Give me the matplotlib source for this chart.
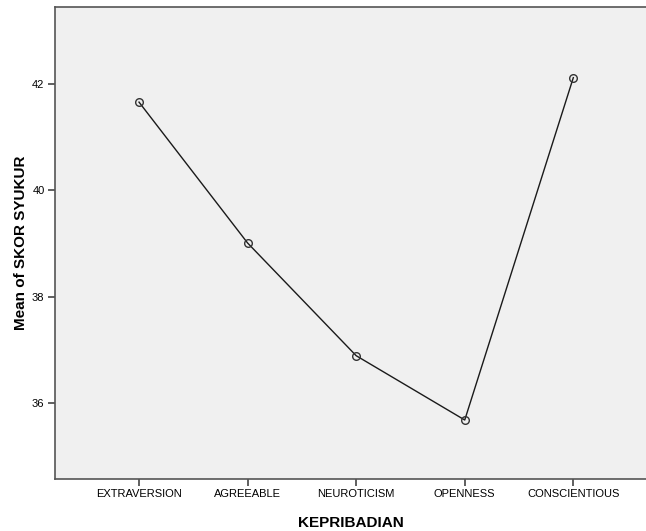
import matplotlib
matplotlib.use("Agg")
import matplotlib.pyplot as plt

# data
categories = ["EXTRAVERSION", "AGREEABLE", "NEUROTICISM", "OPENNESS", "CONSCIENTIOUS"]
mean_scores = [41.66, 39.01, 36.89, 35.68, 42.12]
y_ticks = [36, 38, 40, 42]

plt.rcParams["font.family"] = ["Liberation Sans", "DejaVu Sans"]

fig = plt.figure(figsize=(6.46, 5.31), dpi=100)
ax = fig.add_axes([0.0851, 0.0979, 0.915, 0.889])
ax.set_facecolor("#f0f0f0")

x = list(range(len(categories)))
ax.plot(x, mean_scores, color="#1a1a1a", linewidth=1.0,
        marker="o", markersize=5.5, markerfacecolor="none",
        markeredgecolor="#333333", markeredgewidth=1.0)

ax.set_xlim(-0.774, 4.67)
ax.set_ylim(34.57, 43.45)
ax.set_xticks(x)
ax.set_xticklabels(categories, fontsize=8)
ax.set_yticks(y_ticks)
ax.set_yticklabels([str(t) for t in y_ticks], fontsize=8)
ax.tick_params(axis="both", length=5, width=1.2, color="#444444", pad=2.5)

for side in ["left", "bottom", "top"]:
    ax.spines[side].set_color("#555555")
    ax.spines[side].set_linewidth(1.2)
ax.spines["right"].set_visible(False)

ax.set_xlabel("KEPRIBADIAN", fontsize=11, fontweight="bold", labelpad=12)
ax.set_ylabel("Mean of SKOR SYUKUR", fontsize=11, fontweight="bold", labelpad=3)

fig.savefig("out.png", dpi=100)
